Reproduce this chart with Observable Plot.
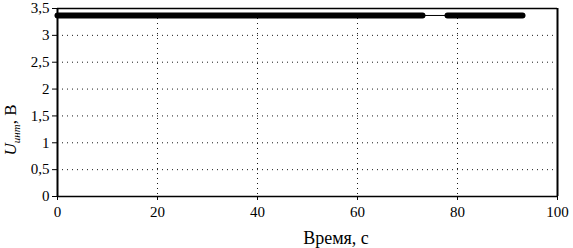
<!DOCTYPE html>
<html><head><meta charset="utf-8">
<script src="https://cdn.jsdelivr.net/npm/d3@7"></script>
<script src="https://cdn.jsdelivr.net/npm/@observablehq/plot@0.6"></script>
<style>body{margin:0;background:#fff;} svg{font-family:"Liberation Serif",serif;}</style>
</head><body><div id="chart"></div>
<script>
// Data
const segStart = [0, 78];     // thick (dense sampling) segments, s
const segEnd   = [73, 93];
const gapT = [73, 78];        // thin connecting segment
const level = 3.37;           // U, V
const xTicks = [0, 20, 40, 60, 80, 100];
const yTicks = [0, 0.5, 1, 1.5, 2, 2.5, 3, 3.5];

const thick = segStart.flatMap((s, i) => [{t: s, u: level, seg: i}, {t: segEnd[i], u: level, seg: i}]);
const thin = gapT.map(t => ({t, u: level}));
const fmt = d => String(d).replace(".", ",");

const plot = Plot.plot({
  width: 573, height: 248,
  marginLeft: 57, marginRight: 16, marginTop: 8, marginBottom: 52,
  style: {fontFamily: "Liberation Serif, serif", fontSize: "15px", color: "#000", background: "#fff"},
  x: {domain: [0, 100], ticks: xTicks, tickFormat: fmt, label: null, tickSize: 4, tickPadding: 6},
  y: {domain: [0, 3.5], ticks: yTicks, tickFormat: fmt, label: null, tickSize: 5, tickPadding: 4},
  marks: [
    Plot.gridY(yTicks.filter(d => d > 0 && d < 3.5), {stroke: "#000", strokeOpacity: 0.9, strokeDasharray: "1,4", strokeWidth: 1}),
    Plot.gridX(xTicks.filter(d => d > 0 && d < 100), {stroke: "#000", strokeOpacity: 0.9, strokeDasharray: "1,4", strokeWidth: 1}),
    Plot.line(thin, {x: "t", y: "u", stroke: "#000", strokeWidth: 1}),
    Plot.line(thick, {x: "t", y: "u", z: "seg", stroke: "#000", strokeWidth: 6, strokeLinecap: "round"}),
    Plot.ruleY([3.5], {stroke: "#000", strokeWidth: 1.5}),
    Plot.ruleX([100], {stroke: "#000", strokeWidth: 2}),
    Plot.ruleX([0], {stroke: "#000", strokeWidth: 2}),
    Plot.ruleY([0], {stroke: "#000", strokeWidth: 1.5}),
    Plot.axisX({ticks: xTicks, tickFormat: fmt, tickSize: 4, tickPadding: 6, label: null, fontSize: 15}),
    Plot.axisY({ticks: yTicks, tickFormat: fmt, tickSize: 5, tickPadding: 3, label: null, fontSize: 15})
  ]
});
document.getElementById("chart").appendChild(plot);

const svg = d3.select(plot);
svg.append("text").attr("x", 336).attr("y", 244).attr("text-anchor", "middle")
  .attr("font-size", 18).attr("fill", "#000").text("Время, с");
const yl = svg.append("text").attr("transform", "translate(16,130) rotate(-90)")
  .attr("text-anchor", "middle").attr("font-size", 17).attr("fill", "#000");
yl.append("tspan").attr("font-style", "italic").text("U");
yl.append("tspan").attr("font-size", 11).attr("dy", 4).attr("font-style", "italic").text("инт");
yl.append("tspan").attr("dy", -4).text(", В");
</script></body></html>
